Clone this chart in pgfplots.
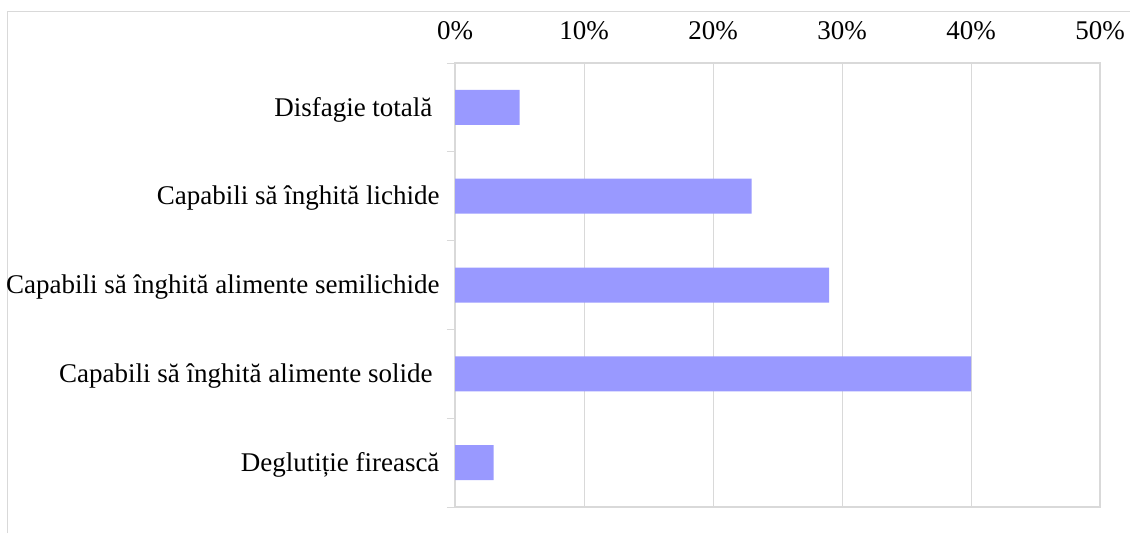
\documentclass[border=0pt]{standalone}
\usepackage{pgfplots}
\pgfplotsset{compat=1.18}
\usepackage{fontspec}
\setmainfont{Liberation Serif}
\definecolor{barcol}{HTML}{9999FF}
\definecolor{gridgray}{HTML}{D9D9D9}
\begin{document}
\begin{tikzpicture}[x=1pt,y=1pt]
\useasboundingbox (0,0) rectangle (1130,533);
\draw[gridgray, line width=1.2pt] (7.5,0) -- (7.5,521.5) -- (1130,521.5);
\begin{axis}[
  at={(455pt,26pt)}, anchor=south west,
  scale only axis, width=645pt, height=444pt,
  xbar, bar width=35pt,
  xmin=0, xmax=50,
  xtick={0,10,20,30,40,50},
  xticklabel={\pgfmathprintnumber{\tick}\%},
  xticklabel pos=top,
  xmajorgrids, grid style={gridgray, line width=1pt},
  ymin=-0.5, ymax=4.5, y dir=reverse,
  ytick={0,1,2,3,4},
  ytick pos=left,
  yticklabels={{Disfagie totală\kern7pt},{Capabili să înghită lichide},{Capabili să înghită alimente semilichide},{Capabili să înghită alimente solide\kern7pt},{Deglutiție firească}},
  minor ytick={-0.5,0.5,1.5,2.5,3.5,4.5},
  major tick length=0pt, minor tick length=8pt,
  tick align=outside,
  tick style={gridgray, line width=1pt},
  axis line style={gridgray, line width=1.2pt},
  /pgf/number format/assume math mode=true,
  ticklabel style={font=\fontsize{27}{32}\selectfont, text=black},
  xticklabel style={yshift=20pt},
  yticklabel style={xshift=-12pt, yshift=-2pt},
]
\addplot[fill=barcol, draw=none] coordinates {(5,0) (23,1) (29,2) (40,3) (3,4)};
\end{axis}
\end{tikzpicture}
\end{document}
